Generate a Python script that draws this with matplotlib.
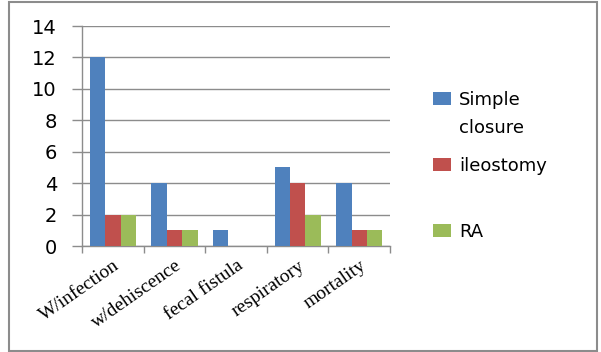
import matplotlib
matplotlib.use("Agg")
import matplotlib.pyplot as plt
import matplotlib.transforms as mtransforms
from matplotlib.patches import Rectangle
from matplotlib.text import Annotation
import numpy as np

categories = ["W/infection", "w/dehiscence", "fecal fistula", "respiratory", "mortality"]
series_names = ["Simple", "ileostomy", "RA"]
series_extra = "closure"
simple_closure = [12, 4, 1, 5, 4]
ileostomy = [2, 1, 0, 4, 1]
ra = [2, 1, 0, 2, 1]
series_values = [simple_closure, ileostomy, ra]
colors = ["#4F81BD", "#C0504D", "#9BBB59"]
yticks = [0, 2, 4, 6, 8, 10, 12, 14]

W, H = 601, 352
fig = plt.figure(figsize=(W / 100, H / 100), dpi=100)
fig.patch.set_facecolor("white")

# outer frame
fig.add_artist(Rectangle((9 / W, 1 - 351 / H), (597 - 9) / W, (351 - 2) / H,
                         transform=fig.transFigure, fill=False,
                         edgecolor="#8c8c8c", lw=1.5))

ax = fig.add_axes([82 / W, 1 - 246 / H, (390 - 82) / W, (246 - 26) / H])

n = len(categories)
x = np.arange(n)
bw = 0.25
handles = []
for i, (vals, c) in enumerate(zip(series_values, colors)):
    b = ax.bar(x + (i - 1) * bw, vals, width=bw, color=c, zorder=3)
    handles.append(b)

ax.set_xlim(-0.5, n - 0.5)
ax.set_ylim(0, 14)
ax.set_yticks(yticks)
ax.set_yticklabels([str(t) for t in yticks], fontsize=14, family="DejaVu Sans")
ax.yaxis.grid(True, color="#8c8c8c", lw=1.0, zorder=0)
ax.tick_params(axis="y", length=7, width=1, color="#8c8c8c", pad=11)

ax.set_xticks(x)
ax.set_xticklabels(categories, fontsize=14, family="Liberation Serif",
                   rotation=35, ha="right", va="center", rotation_mode="anchor")
ax.tick_params(axis="x", which="major", length=0, pad=13)
ax.set_xticks(np.arange(n + 1) - 0.5, minor=True)
ax.tick_params(axis="x", which="minor", length=5, width=1, color="#8c8c8c")
offset = mtransforms.ScaledTranslation(5 / 100, 0, fig.dpi_scale_trans)
for lbl in ax.get_xticklabels():
    lbl.set_transform(lbl.get_transform() + offset)

for s in ["top", "right"]:
    ax.spines[s].set_visible(False)
for s in ["left", "bottom"]:
    ax.spines[s].set_color("#8c8c8c")
    ax.spines[s].set_linewidth(1.0)

leg = fig.legend(handles, series_names, loc="upper left",
                 bbox_to_anchor=(424 / W, 1 - 82 / H), frameon=False,
                 prop={"family": "DejaVu Sans", "size": 13},
                 handlelength=1.0, handleheight=0.75, handletextpad=0.45,
                 labelspacing=2.65, borderpad=0)
extra = Annotation(series_extra, xy=(0, 0), xycoords=leg.get_texts()[0],
                   xytext=(0, -24), textcoords="offset pixels",
                   ha="left", va="baseline", fontsize=13, family="DejaVu Sans",
                   annotation_clip=False, zorder=10)
fig.add_artist(extra)

fig.savefig("out.png", dpi=100, facecolor="white")
